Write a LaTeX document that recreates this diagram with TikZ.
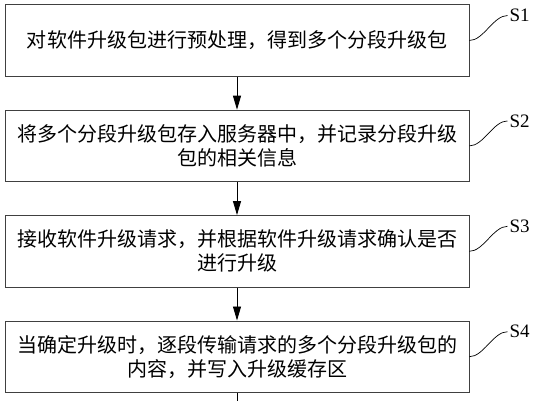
\documentclass[tikz,border=0pt]{standalone}
\usepackage{fontspec}
\setmainfont{Liberation Serif}
\newfontfamily\cjk{Noto Sans CJK SC}
\usetikzlibrary{arrows.meta,positioning}

\begin{document}
\begin{tikzpicture}[
    node distance=33pt,
    stepbox/.style={rectangle, draw=black!75, line width=0.9pt, minimum width=464pt, minimum height=71.5pt, align=center, inner sep=0pt, font=\cjk\fontsize{20pt}{24pt}\selectfont},
    steplabel/.style={inner sep=2pt, font=\fontsize{19pt}{22pt}\selectfont},
    arrow/.style={-{Triangle[length=14pt,width=8pt]}, line width=0.9pt},
    leader/.style={line width=0.7pt}
]
    \useasboundingbox (0,0) rectangle (535pt,-400pt);

    % Steps
    \node[stepbox] (pre) at (237pt,-40.5pt) {对软件升级包进行预处理，得到多个分段升级包};
    \node[stepbox, below=of pre] (store) {将多个分段升级包存入服务器中，并记录分段升级\\包的相关信息};
    \node[stepbox, below=of store] (request) {接收软件升级请求，并根据软件升级请求确认是否\\进行升级};
    \node[stepbox, below=of request] (transfer) {当确定升级时，逐段传输请求的多个分段升级包的\\内容，并写入升级缓存区};
    \coordinate[below=12pt of transfer.south] (next);

    % Step labels
    \node[steplabel, right=38pt of pre.east, yshift=25pt] (s1) {S1};
    \node[steplabel, right=38pt of store.east, yshift=25pt] (s2) {S2};
    \node[steplabel, right=38pt of request.east, yshift=25pt] (s3) {S3};
    \node[steplabel, right=38pt of transfer.east, yshift=25pt] (s4) {S4};

    % Arrows
    \draw[arrow] (pre) -- (store);
    \draw[arrow] (store) -- (request);
    \draw[arrow] (request) -- (transfer);
    \draw[line width=0.9pt] (transfer) -- (next);

    % Leaders
    \draw[leader] (pre.east) .. controls +(14pt,0pt) and +(-14pt,0pt) .. (s1.west);
    \draw[leader] (store.east) .. controls +(14pt,0pt) and +(-14pt,0pt) .. (s2.west);
    \draw[leader] (request.east) .. controls +(14pt,0pt) and +(-14pt,0pt) .. (s3.west);
    \draw[leader] (transfer.east) .. controls +(14pt,0pt) and +(-14pt,0pt) .. (s4.west);
\end{tikzpicture}
\end{document}
